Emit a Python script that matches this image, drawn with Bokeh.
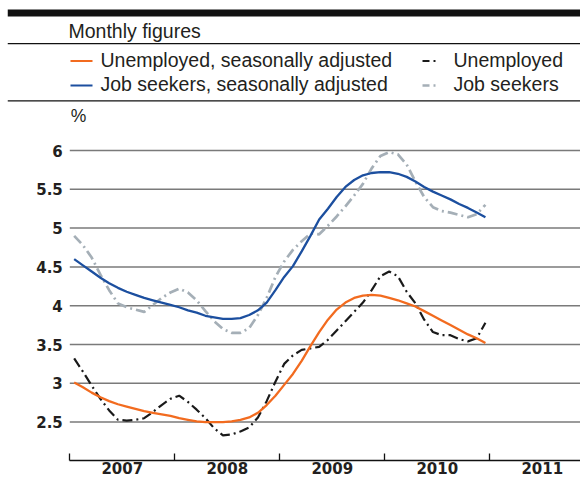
from bokeh.plotting import figure
from bokeh.models import Range1d, FixedTicker, CustomJSTickFormatter
from bokeh.embed import file_html
from bokeh.resources import INLINE
from bokeh.core.properties import value

# ---------------- data ----------------
start_year = 2007
unemployed_sa = [3.01, 2.95, 2.88, 2.82, 2.77, 2.73, 2.70, 2.67, 2.64, 2.62, 2.60, 2.58,
                 2.55, 2.53, 2.51, 2.50, 2.50, 2.50, 2.51, 2.53, 2.56, 2.62, 2.72, 2.84,
                 2.98, 3.12, 3.29, 3.48, 3.66, 3.82, 3.95, 4.04, 4.10, 4.13, 4.14, 4.13,
                 4.10, 4.07, 4.03, 3.99, 3.93, 3.87, 3.81, 3.75, 3.69, 3.63, 3.58, 3.52]
unemployed = [3.32, 3.15, 2.97, 2.80, 2.65, 2.53, 2.52, 2.53, 2.55, 2.63, 2.72, 2.80,
              2.84, 2.76, 2.66, 2.55, 2.42, 2.33, 2.34, 2.38, 2.43, 2.56, 2.77, 3.02,
              3.25, 3.36, 3.43, 3.45, 3.47, 3.56, 3.68, 3.80, 3.92, 4.04, 4.20, 4.38,
              4.44, 4.38, 4.18, 4.03, 3.82, 3.66, 3.62, 3.62, 3.57, 3.54, 3.58, 3.78]
jobseekers_sa = [4.60, 4.52, 4.44, 4.36, 4.29, 4.23, 4.18, 4.14, 4.10, 4.07, 4.04, 4.01,
                 3.98, 3.94, 3.91, 3.87, 3.85, 3.83, 3.83, 3.84, 3.88, 3.94, 4.04, 4.20,
                 4.37, 4.51, 4.70, 4.90, 5.11, 5.25, 5.40, 5.53, 5.62, 5.68, 5.71, 5.72,
                 5.72, 5.70, 5.66, 5.60, 5.53, 5.47, 5.42, 5.37, 5.31, 5.26, 5.20, 5.14]
jobseekers = [4.90, 4.78, 4.62, 4.40, 4.20, 4.03, 3.98, 3.95, 3.92, 4.01, 4.10, 4.17,
              4.22, 4.17, 4.07, 3.93, 3.80, 3.70, 3.65, 3.65, 3.71, 3.88, 4.10, 4.37,
              4.57, 4.72, 4.83, 4.93, 4.92, 5.03, 5.15, 5.28, 5.42, 5.57, 5.77, 5.93,
              5.98, 5.95, 5.82, 5.60, 5.40, 5.27, 5.22, 5.20, 5.17, 5.14, 5.18, 5.30]
series_names = ["Unemployed, seasonally adjusted", "Unemployed",
                "Job seekers, seasonally adjusted", "Job seekers"]
year_labels = ["2007", "2008", "2009", "2010", "2011"]
y_ticks = [2.5, 3, 3.5, 4, 4.5, 5, 5.5, 6]
y_tick_labels = ["2.5", "3", "3.5", "4", "4.5", "5", "5.5", "6"]
subtitle = "Monthly figures"
unit_label = "%"

months = [start_year + (i + 0.5) / 12 for i in range(len(unemployed_sa))]
year_mids = [start_year + k + 0.5 for k in range(len(year_labels))]
year_edges = [start_year + k for k in range(len(year_labels) + 1)]

# ---------------- styles / geometry ----------------
ORANGE = "#f26b1f"
BLUE = "#1c4f9f"
BLACK = "#1a1a1a"
GREY = "#a5afb7"
TEXT = "#231f20"
RULE = "#111111"
GRIDC = "#7a7a7a"
DASH = "10 4 2 4"
FONT = "Liberation Sans"
NUMFONT = "DejaVu Sans"

W = 580
H = 479
FRAME_L = 7          # frame starts where the header rules start
AXIS_X = 69.3        # pixel position of the start of 2007
LABEL_GAP = 7        # gap between y labels and the plot start
YEAR_PX = 105.0
Y6_PX = 150.0        # pixel position of the 6% gridline
PX_PER_UNIT = 77.6
Y_MIN = 2.0

x0 = start_year - (AXIS_X - FRAME_L) / YEAR_PX
x1 = start_year + (W - AXIS_X) / YEAR_PX
y_top = 6 + Y6_PX / PX_PER_UNIT
y_bot = 6 - (H - Y6_PX) / PX_PER_UNIT

p = figure(width=W, height=H, x_range=Range1d(x0, x1), y_range=Range1d(y_bot, y_top),
           toolbar_location=None, output_backend="svg",
           min_border_left=FRAME_L, min_border_right=0, min_border_top=0, min_border_bottom=0)
p.extra_x_ranges = {"px": Range1d(FRAME_L, W)}
p.extra_y_ranges = {"py": Range1d(H, 0)}
p.outline_line_color = None
p.grid.visible = False

fmt_code = """
for (let i = 0; i < vals.length; i++) {
  if (Math.abs(vals[i] - tick) < 1e-6) { return labels[i]; }
}
return "";
"""
# y axis (labels only), placed just left of the start of 2007
p.yaxis.fixed_location = start_year - LABEL_GAP / YEAR_PX
p.yaxis.ticker = FixedTicker(ticks=y_ticks)
p.yaxis.formatter = CustomJSTickFormatter(args=dict(vals=y_ticks, labels=y_tick_labels), code=fmt_code)
p.yaxis.axis_line_color = None
p.yaxis.major_tick_in = 0
p.yaxis.major_tick_out = 0
p.yaxis.minor_tick_line_color = None
p.yaxis.major_label_standoff = 0
p.yaxis.major_label_text_font = NUMFONT
p.yaxis.major_label_text_font_style = "bold"
p.yaxis.major_label_text_font_size = "15px"
p.yaxis.major_label_text_color = TEXT

# x axis, drawn at 2 %
p.xaxis.fixed_location = Y_MIN
p.xaxis.bounds = (start_year, x1)
p.xaxis.ticker = FixedTicker(ticks=year_mids, minor_ticks=year_edges)
p.xaxis.formatter = CustomJSTickFormatter(args=dict(vals=year_mids, labels=year_labels), code=fmt_code)
p.xaxis.axis_line_color = RULE
p.xaxis.axis_line_width = 1.5
p.xaxis.major_tick_in = 0
p.xaxis.major_tick_out = 0
p.xaxis.minor_tick_in = 7
p.xaxis.minor_tick_out = 0
p.xaxis.minor_tick_line_color = RULE
p.xaxis.minor_tick_line_width = 1.3
p.xaxis.major_label_standoff = 1
p.xaxis.major_label_text_font = NUMFONT
p.xaxis.major_label_text_font_style = "bold"
p.xaxis.major_label_text_font_size = "15px"
p.xaxis.major_label_text_color = TEXT

# horizontal gridlines from the start of 2007 to the right edge
p.segment(x0=[start_year] * len(y_ticks), x1=[x1] * len(y_ticks), y0=y_ticks, y1=y_ticks,
          line_color=GRIDC, line_width=1.5)

# ---------------- header (rules, subtitle, legend) ----------------
p.quad(left=[FRAME_L] * 3, right=[W] * 3, top=[9, 42.4, 99.8], bottom=[16, 43.7, 101.1],
       x_range_name="px", y_range_name="py", fill_color=RULE, line_color=None)

p.text(x=[68], y=[30], text=[subtitle], x_range_name="px", y_range_name="py",
       text_font=value(FONT), text_font_size="19.5px", text_color=TEXT, text_baseline="middle")

leg_x_sw = [70, 422, 70, 422]
leg_x_txt = [100, 453, 100, 453]
leg_y = [59, 59, 83.5, 83.5]
styles = [(ORANGE, "solid", 2.2, 22), (BLACK, "7 4 2 4", 2.2, 13),
          (BLUE, "solid", 2.2, 22), (GREY, "7 4 2 4", 2.6, 13)]
for name, xs, xt, yy, (col, dash, lw, sw) in zip(series_names, leg_x_sw, leg_x_txt, leg_y, styles):
    p.line([xs, xs + sw], [yy + 1.5, yy + 1.5], x_range_name="px", y_range_name="py",
           line_color=col, line_width=lw, line_dash=dash)
    p.text(x=[xt], y=[yy], text=[name], x_range_name="px", y_range_name="py",
           text_font=value(FONT), text_font_size="19.5px", text_color=TEXT, text_baseline="middle")

# ---------------- series ----------------
p.line(months, jobseekers, line_color=GREY, line_width=2.7, line_dash=DASH)
p.line(months, unemployed, line_color=BLACK, line_width=2.2, line_dash=DASH)
p.line(months, jobseekers_sa, line_color=BLUE, line_width=2.3)
p.line(months, unemployed_sa, line_color=ORANGE, line_width=2.3)

p.text(x=[start_year + 1 / YEAR_PX], y=[6.45], text=[unit_label], text_font=value(FONT),
       text_font_size="17.5px", text_color=TEXT, text_baseline="middle")

open("out.html", "w").write(file_html(p, INLINE))
